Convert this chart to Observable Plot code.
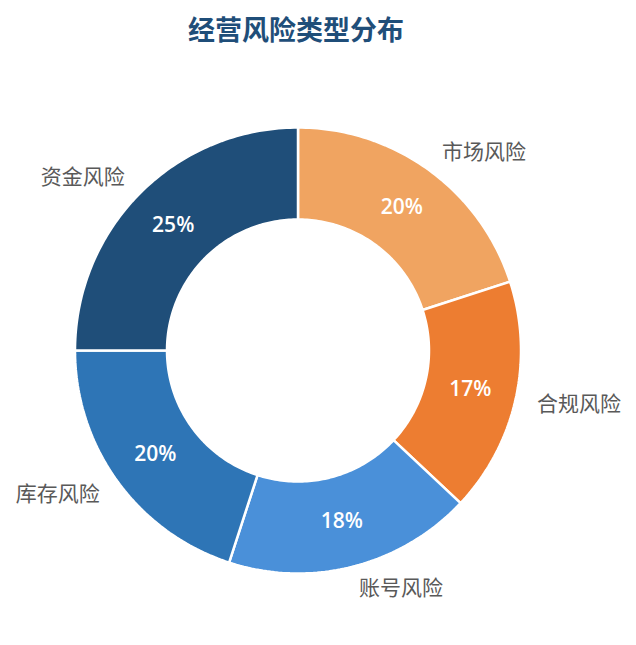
<!DOCTYPE html>
<html>
<head>
<meta charset="utf-8">
<script src="https://cdn.jsdelivr.net/npm/d3@7"></script>
<script src="https://cdn.jsdelivr.net/npm/@observablehq/plot@0.6"></script>
<style>
  html, body { margin: 0; padding: 0; background: #fff; }
  #title { width: 592px; height: 58px; line-height: 58px; text-align: center;
    font-family: "Noto Sans CJK SC", "Noto Sans", sans-serif; font-weight: 700;
    font-size: 27px; color: #1F4E79; }
</style>
</head>
<body>
<div id="title">经营风险类型分布</div>
<div id="chart"></div>
<script>
const categories = ["市场风险", "合规风险", "账号风险", "库存风险", "资金风险"];
const values = [20, 17, 18, 20, 25];
const colors = ["#F0A461", "#ED7D31", "#4A90D9", "#2E75B6", "#1F4E79"];

const W = 636, H = 587;
const cx = 297.5, cy = 292;
const R0 = 131, R1 = 223, RL = 245, RM = 176.5;

const arcs = d3.pie().sort(null).value(d => d)(values);

// polygon vertices of each ring segment, from the pie angles
const poly = [];
arcs.forEach((a, i) => {
  const n = Math.max(2, Math.ceil((a.endAngle - a.startAngle) / (2 * Math.PI) * 360));
  const pts = [];
  for (let k = 0; k <= n; k++) {
    const t = a.startAngle + (a.endAngle - a.startAngle) * k / n;
    pts.push([R1 * Math.sin(t), R1 * Math.cos(t)]);
  }
  for (let k = n; k >= 0; k--) {
    const t = a.startAngle + (a.endAngle - a.startAngle) * k / n;
    pts.push([R0 * Math.sin(t), R0 * Math.cos(t)]);
  }
  pts.push(pts[0]);
  pts.forEach(p => poly.push({cat: categories[i], x: p[0], y: p[1]}));
});

const labels = arcs.map((a, i) => {
  const m = (a.startAngle + a.endAngle) / 2;
  return {
    cat: categories[i], pct: values[i] + "%",
    lx: RL * Math.sin(m), ly: RL * Math.cos(m),
    px: RM * Math.sin(m), py: RM * Math.cos(m),
    right: Math.sin(m) > 0
  };
});

const chart = Plot.plot({
  width: W, height: H,
  margin: 0,
  x: {domain: [-cx, W - cx], range: [0, W], axis: null},
  y: {domain: [-(H - cy), cy], range: [H, 0], axis: null},
  color: {domain: categories, range: colors},
  style: {background: "transparent"},
  marks: [
    Plot.line(poly, {x: "x", y: "y", z: "cat", fill: "cat", stroke: "white", strokeWidth: 2.5, strokeLinejoin: "miter", curve: "linear"}),
    Plot.text(labels, {x: "px", y: "py", text: "pct", fill: "white", fontSize: 21, fontWeight: 600,
      fontFamily: "'Open Sans', 'Noto Sans', sans-serif"}),
    Plot.text(labels.filter(d => d.right), {x: "lx", y: "ly", text: "cat", textAnchor: "start", fill: "#595959", fontSize: 21,
      fontFamily: "'Noto Sans CJK SC', sans-serif"}),
    Plot.text(labels.filter(d => !d.right), {x: "lx", y: "ly", text: "cat", textAnchor: "end", fill: "#595959", fontSize: 21,
      fontFamily: "'Noto Sans CJK SC', sans-serif"})
  ]
});
document.getElementById("chart").appendChild(chart);
</script>
</body>
</html>
